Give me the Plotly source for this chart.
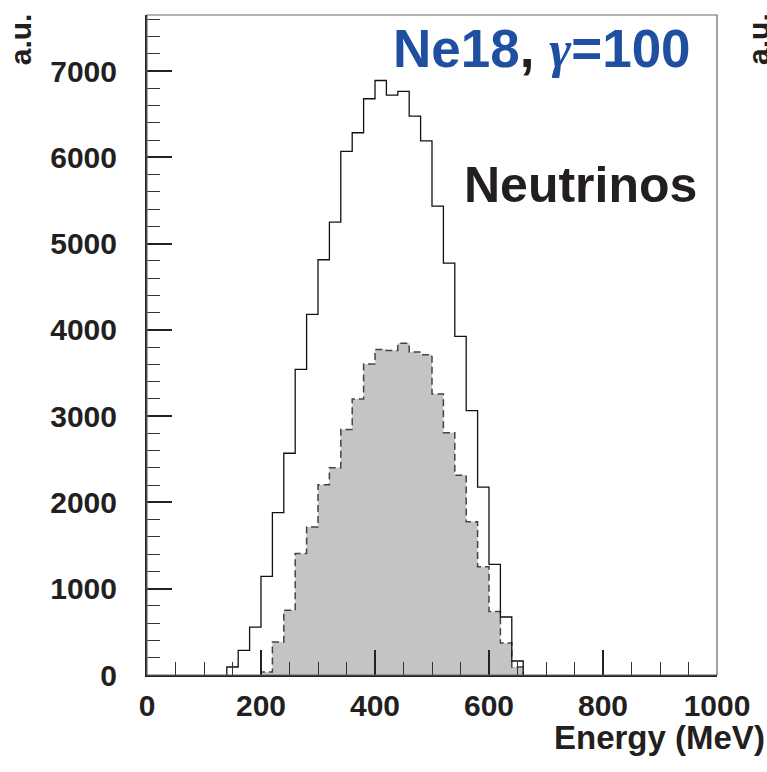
import plotly.graph_objects as go

# ---- data (bin width 20 MeV) ----
bin_width = 20
all_start = 140          # left edge of first bin of the full spectrum
all_counts = [93, 286, 556, 1144, 1882, 2570, 3542, 4180, 4813, 5249, 6070, 6285,
              6679, 6891, 6721, 6764, 6477, 6192, 5435, 4774, 3925, 3064, 2178,
              1283, 672, 162]
sel_start = 200          # left edge of first bin of the shaded spectrum
sel_counts = [35, 382, 750, 1407, 1715, 2206, 2403, 2845, 3200, 3604, 3774, 3762,
              3844, 3743, 3713, 3256, 2809, 2314, 1777, 1256, 735, 371, 93]

x_ticks = [0, 200, 400, 600, 800, 1000]
y_ticks = [0, 1000, 2000, 3000, 4000, 5000, 6000, 7000]


def step_xy(start, counts):
    lefts = [start + i * bin_width for i in range(len(counts))]
    xs = [start] + lefts + [start + len(counts) * bin_width]
    ys = [0] + list(counts) + [0]
    return xs, ys


FONT = "Liberation Sans, Arial, Helvetica, sans-serif"
BLUE = "#1f4fa1"

fig = go.Figure()

xs, ys = step_xy(sel_start, sel_counts)
fig.add_trace(go.Scatter(x=xs, y=ys, mode="lines", line_shape="hv",
                         fill="tozeroy", fillcolor="#c3c4c6",
                         line=dict(color="#444444", width=1.5, dash="7px,4px"),
                         showlegend=False, hoverinfo="skip"))

xs, ys = step_xy(all_start, all_counts)
fig.add_trace(go.Scatter(x=xs, y=ys, mode="lines", line_shape="hv",
                         line=dict(color="#111111", width=1.3),
                         showlegend=False, hoverinfo="skip"))

tickfont = dict(family=FONT, size=30, color="#231f20", weight="bold")

fig.update_xaxes(range=[0, 1000], tickvals=x_ticks, ticks="inside", ticklen=25,
                 tickwidth=1.5, tickcolor="#222", showline=True, linewidth=2,
                 linecolor="#222", showgrid=False, zeroline=False,
                 tickfont=tickfont, ticklabelstandoff=3,
                 minor=dict(dtick=50, ticks="inside", ticklen=13, tickwidth=1.3,
                            tickcolor="#333", showgrid=False))
fig.update_yaxes(range=[0, 7650], tickvals=y_ticks, ticks="inside", ticklen=25,
                 tickwidth=1.5, tickcolor="#222", showline=True, linewidth=2,
                 linecolor="#222", showgrid=False, zeroline=False,
                 tickfont=tickfont, ticklabelstandoff=22,
                 minor=dict(dtick=200, ticks="inside", ticklen=13, tickwidth=1.3,
                            tickcolor="#333", showgrid=False))

fig.add_shape(type="rect", xref="paper", yref="paper", x0=0, y0=0, x1=1, y1=1,
              line=dict(color="#666666", width=1.2), layer="above")

annos = [
    dict(text=f'<span style="color:{BLUE}">Ne18</span>, '
              f'<span style="color:{BLUE};font-family:Liberation Serif;font-style:italic">γ</span>'
              f'<span style="color:{BLUE}">=100</span>',
         x=0.958, y=0.950, xanchor="right", yanchor="middle",
         font=dict(family=FONT, size=53, color="#231f20", weight="bold")),
    dict(text="Neutrinos", x=0.968, y=0.742, xanchor="right", yanchor="middle",
         font=dict(family=FONT, size=50, color="#231f20", weight="bold")),
    dict(text="Energy (MeV)", x=1.087, y=-0.095, xanchor="right", yanchor="middle",
         font=dict(family=FONT, size=33, color="#231f20", weight="bold")),
    dict(text="a.u.", x=-0.222, y=0.964, xanchor="center", yanchor="middle",
         textangle=-90, font=dict(family=FONT, size=30, color="#231f20", weight="bold")),
    dict(text="a.u.", x=1.074, y=0.964, xanchor="center", yanchor="middle",
         textangle=-90, font=dict(family=FONT, size=30, color="#231f20", weight="bold")),
]
for a in annos:
    fig.add_annotation(xref="paper", yref="paper", showarrow=False, **a)

fig.update_layout(width=767, height=772, margin=dict(l=147, r=50, t=15, b=97),
                  plot_bgcolor="white", paper_bgcolor="white")

fig.write_html("out.html")
